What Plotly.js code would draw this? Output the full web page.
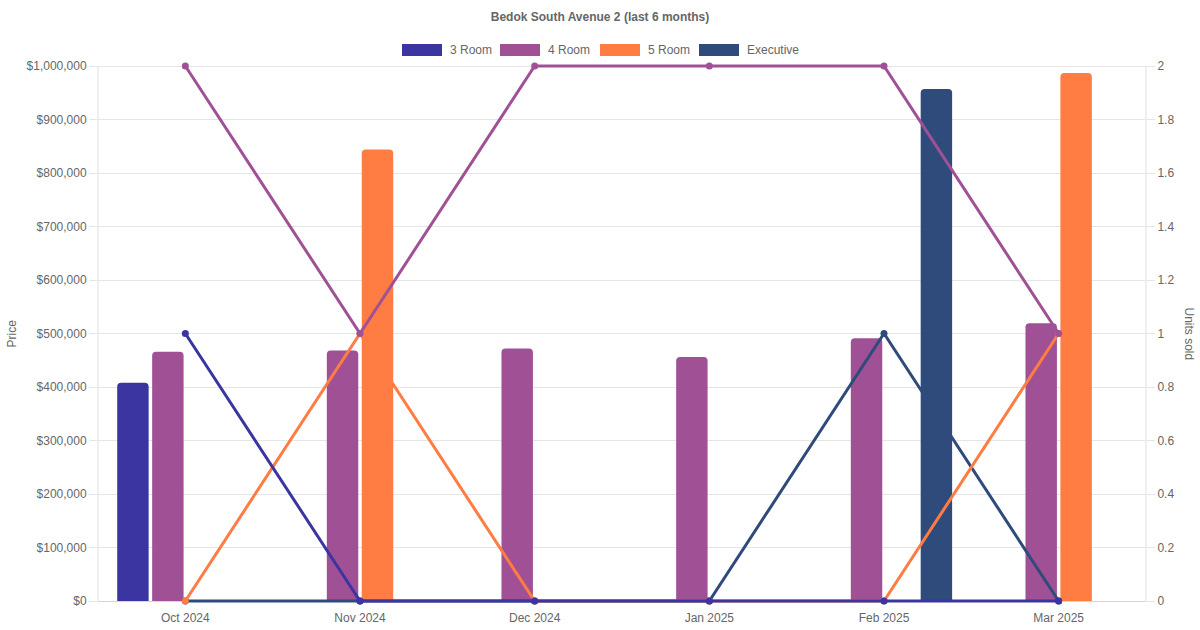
<!DOCTYPE html>
<html>
<head>
<meta charset="utf-8">
<script src="https://cdn.plot.ly/plotly-3.0.1.min.js"></script>
<style>
  html, body { margin: 0; padding: 0; background: #fff; }
  #chart { width: 1200px; height: 630px; }
</style>
</head>
<body>
<div id="chart"></div>
<script>
// months on the x axis
var months = ['Oct 2024', 'Nov 2024', 'Dec 2024', 'Jan 2025', 'Feb 2025', 'Mar 2025'];

var seriesNames = ['3 Room', '4 Room', '5 Room', 'Executive'];
var seriesColors = ['#3a35a0', '#a05195', '#ff7c43', '#2f4b7c'];

// average price per flat type (null = no sale that month)
var price3Room = [408000, null, null, null, null, null];
var price4Room = [466000, 468000, 472000, 456000, 491000, 519000];
var price5Room = [null, 844000, null, null, null, 987000];
var priceExec = [null, null, null, null, 957000, null];

// units sold per flat type
var units3Room = [1, 0, 0, 0, 0, 0];
var units4Room = [2, 1, 2, 2, 2, 1];
var units5Room = [0, 1, 0, 0, 0, 1];
var unitsExec = [0, 0, 0, 0, 1, 0];

var prices = [price3Room, price4Room, price5Room, priceExec];
var units = [units3Room, units4Room, units5Room, unitsExec];

var font = 'Liberation Sans, Arial, Helvetica, sans-serif';
var textColor = '#666';
var gridColor = '#e5e5e5';

var traces = [];

// bars first, so the lines sit on top
for (var i = 0; i < seriesNames.length; i++) {
  traces.push({
    type: 'bar',
    name: seriesNames[i],
    x: months,
    y: prices[i],
    marker: { color: seriesColors[i], cornerradius: 4 },
    showlegend: false,
    hoverinfo: 'none'
  });
}

// lines drawn in reverse so 3 Room ends up on top
for (var j = seriesNames.length - 1; j >= 0; j--) {
  traces.push({
    type: 'scatter',
    mode: 'lines+markers',
    name: seriesNames[j] + ' units',
    x: months,
    y: units[j],
    yaxis: 'y2',
    cliponaxis: false,
    line: { color: seriesColors[j], width: 3 },
    marker: { color: seriesColors[j], size: 7 },
    showlegend: false,
    hoverinfo: 'none'
  });
}

// visible plot area in pixels (0 .. max), plus a small pad so
// lines lying on 0 or on the top value are not cut in half
var plotL = 98, plotR = 1146, plotT = 66, plotB = 601;
var pad = 3;
var priceMax = 1000000, unitsMax = 2;
var pricePad = priceMax / (plotB - plotT) * pad;
var unitsPad = unitsMax / (plotB - plotT) * pad;

function px(x) { return (x - plotL) / (plotR - plotL); }
function py(y) { return (plotB + pad - y) / (plotB - plotT + 2 * pad); }

var legendLeft = [402, 500, 600, 699];
var shapes = [];
var annotations = [];
for (var k = 0; k < seriesNames.length; k++) {
  shapes.push({
    type: 'rect', xref: 'paper', yref: 'paper',
    x0: px(legendLeft[k]), x1: px(legendLeft[k] + 40),
    y0: py(56), y1: py(44),
    fillcolor: seriesColors[k],
    line: { width: 0 }
  });
  annotations.push({
    xref: 'paper', yref: 'paper',
    x: px(legendLeft[k] + 46), y: py(50),
    xanchor: 'left', yanchor: 'middle',
    text: seriesNames[k], showarrow: false,
    font: { family: font, size: 12, color: textColor }
  });
}

annotations.push({
  xref: 'paper', yref: 'paper',
  x: px(11), y: py((plotT + plotB) / 2), xanchor: 'center', yanchor: 'middle',
  text: 'Price', textangle: -90, showarrow: false,
  font: { family: font, size: 12, color: textColor }
});
annotations.push({
  xref: 'paper', yref: 'paper',
  x: px(1189), y: py((plotT + plotB) / 2), xanchor: 'center', yanchor: 'middle',
  text: 'Units sold', textangle: 90, showarrow: false,
  font: { family: font, size: 12, color: textColor }
});

var layout = {
  width: 1200,
  height: 630,
  title: {
    text: '<b>Bedok South Avenue 2 (last 6 months)</b>',
    font: { family: font, size: 12, color: textColor },
    x: 0.5, xanchor: 'center',
    y: 1 - 17 / 630, yanchor: 'middle'
  },
  font: { family: font, size: 12, color: textColor },
  margin: { l: plotL, r: 1200 - plotR, t: plotT - pad, b: 630 - plotB - pad },
  barmode: 'group',
  bargap: 0.2,
  bargroupgap: 0.1,
  showlegend: false,
  plot_bgcolor: '#fff',
  paper_bgcolor: '#fff',
  xaxis: {
    type: 'category',
    range: [-0.5, 5.5],
    showgrid: false,
    showline: false,
    ticks: '',
    ticklabelstandoff: 5,
    tickfont: { family: font, size: 12, color: textColor },
    fixedrange: true
  },
  yaxis: {
    range: [-pricePad, priceMax + pricePad],
    tick0: 0,
    dtick: 100000,
    tickprefix: '$',
    tickformat: ',.0f',
    showgrid: true,
    gridcolor: gridColor,
    showline: false,
    ticks: 'outside',
    ticklen: 8,
    tickcolor: gridColor,
    zeroline: true,
    zerolinecolor: '#d6d6d6',
    zerolinewidth: 1,
    tickfont: { family: font, size: 12, color: textColor },
    fixedrange: true
  },
  yaxis2: {
    overlaying: 'y',
    side: 'right',
    range: [-unitsPad, unitsMax + unitsPad],
    tick0: 0,
    dtick: 0.2,
    showgrid: false,
    showline: false,
    ticks: 'outside',
    ticklen: 8,
    tickcolor: gridColor,
    zeroline: false,
    tickfont: { family: font, size: 12, color: textColor },
    fixedrange: true
  },
  shapes: shapes.concat([
    // the two upright axis lines, from 0 to the top value
    { type: 'line', xref: 'paper', yref: 'y', x0: 0, x1: 0, y0: 0, y1: priceMax,
      line: { color: '#e0e0e0', width: 1 } },
    { type: 'line', xref: 'paper', yref: 'y', x0: 1, x1: 1, y0: 0, y1: priceMax,
      line: { color: '#e0e0e0', width: 1 } }
  ]),
  annotations: annotations
};

var config = { staticPlot: true, displayModeBar: false };

Plotly.newPlot('chart', traces, layout, config);
</script>
</body>
</html>
